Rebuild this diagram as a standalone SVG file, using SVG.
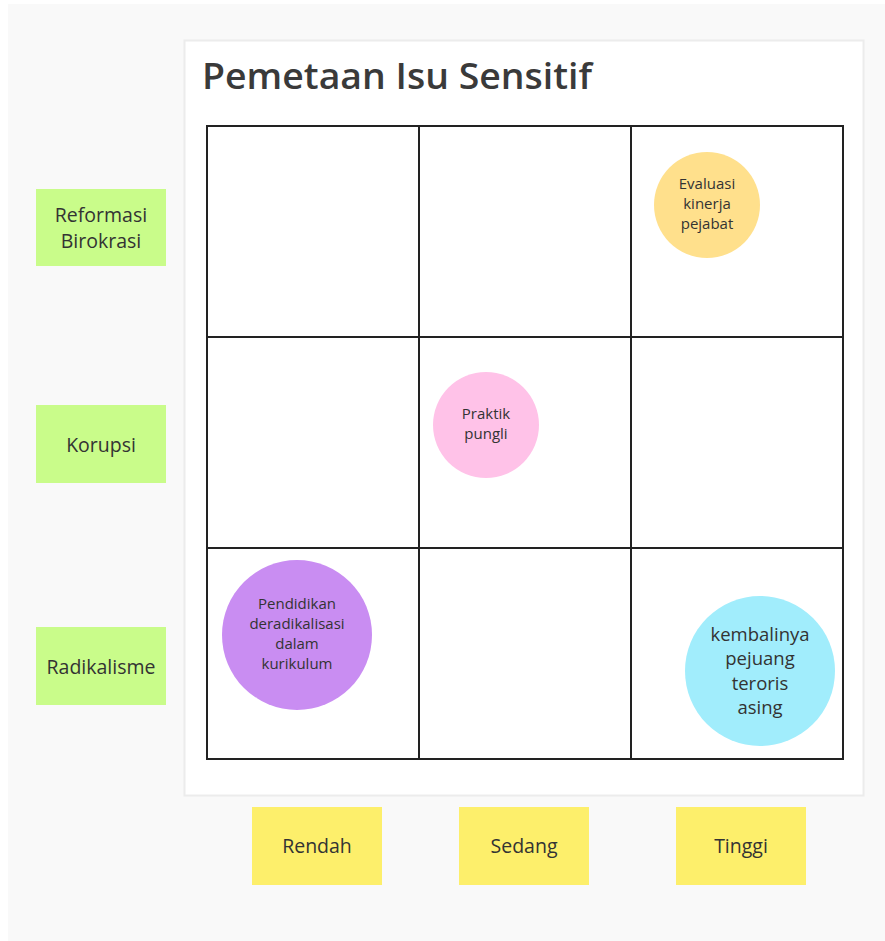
<svg xmlns="http://www.w3.org/2000/svg" width="885" height="941" viewBox="0 0 885 941">
<style>
.lbl{font-family:"Open Sans","Liberation Sans",sans-serif;fill:#333;text-anchor:middle}
.grid{fill:none;stroke:#222;stroke-width:2}
</style>
<rect x="0" y="0" width="885" height="941" fill="#ffffff"/>
<rect x="8" y="4" width="877" height="937" fill="#f9f9f9"/>
<g id="panel">
<rect x="184.5" y="40.5" width="679" height="755" fill="#ffffff" stroke="#ececec" stroke-width="2"/>
<text x="202" y="89" font-family="'Open Sans','Liberation Sans',sans-serif" font-size="36" font-weight="600" fill="#3a3a3a" textLength="390" lengthAdjust="spacingAndGlyphs">Pemetaan Isu Sensitif</text>
</g>
<g id="grid">
<rect class="grid" x="207" y="126" width="636" height="633"/>
<line class="grid" x1="419" y1="126" x2="419" y2="759"/>
<line class="grid" x1="631" y1="126" x2="631" y2="759"/>
<line class="grid" x1="207" y1="337" x2="843" y2="337"/>
<line class="grid" x1="207" y1="548" x2="843" y2="548"/>
</g>
<g id="connectors"></g>
<g id="row-reformasi">
<rect x="36" y="189" width="130" height="77" fill="#c9fc8a"/>
<text class="lbl" font-size="19.5"><tspan x="101" y="222">Reformasi</tspan><tspan x="101" y="248">Birokrasi</tspan></text>
</g>
<g id="row-korupsi">
<rect x="36" y="405" width="130" height="78" fill="#c9fc8a"/>
<text class="lbl" font-size="19.5" x="101" y="452">Korupsi</text>
</g>
<g id="row-radikalisme">
<rect x="36" y="627" width="130" height="78" fill="#c9fc8a"/>
<text class="lbl" font-size="19.5" x="101" y="674">Radikalisme</text>
</g>
<g id="col-rendah">
<rect x="252" y="807" width="130" height="78" fill="#fdef6b"/>
<text class="lbl" font-size="19.5" x="317" y="853">Rendah</text>
</g>
<g id="col-sedang">
<rect x="459" y="807" width="130" height="78" fill="#fdef6b"/>
<text class="lbl" font-size="19.5" x="524" y="853">Sedang</text>
</g>
<g id="col-tinggi">
<rect x="676" y="807" width="130" height="78" fill="#fdef6b"/>
<text class="lbl" font-size="19.5" x="741" y="853">Tinggi</text>
</g>
<g id="evaluasi">
<circle cx="707" cy="205" r="53" fill="#ffe08c"/>
<text class="lbl" font-size="15"><tspan x="707" y="189">Evaluasi</tspan><tspan x="707" y="209">kinerja</tspan><tspan x="707" y="229">pejabat</tspan></text>
</g>
<g id="praktik">
<circle cx="486" cy="425" r="53" fill="#ffc2e8"/>
<text class="lbl" font-size="15"><tspan x="486" y="419">Praktik</tspan><tspan x="486" y="439">pungli</tspan></text>
</g>
<g id="pendidikan">
<circle cx="297" cy="635" r="75" fill="#c98df2"/>
<text class="lbl" font-size="15"><tspan x="297" y="609">Pendidikan</tspan><tspan x="297" y="629">deradikalisasi</tspan><tspan x="297" y="649">dalam</tspan><tspan x="297" y="669">kurikulum</tspan></text>
</g>
<g id="kembalinya">
<circle cx="760" cy="671" r="75" fill="#a1edfc"/>
<text class="lbl" font-size="18.5"><tspan x="760" y="641">kembalinya</tspan><tspan x="760" y="665">pejuang</tspan><tspan x="760" y="690">teroris</tspan><tspan x="760" y="714">asing</tspan></text>
</g>
</svg>
